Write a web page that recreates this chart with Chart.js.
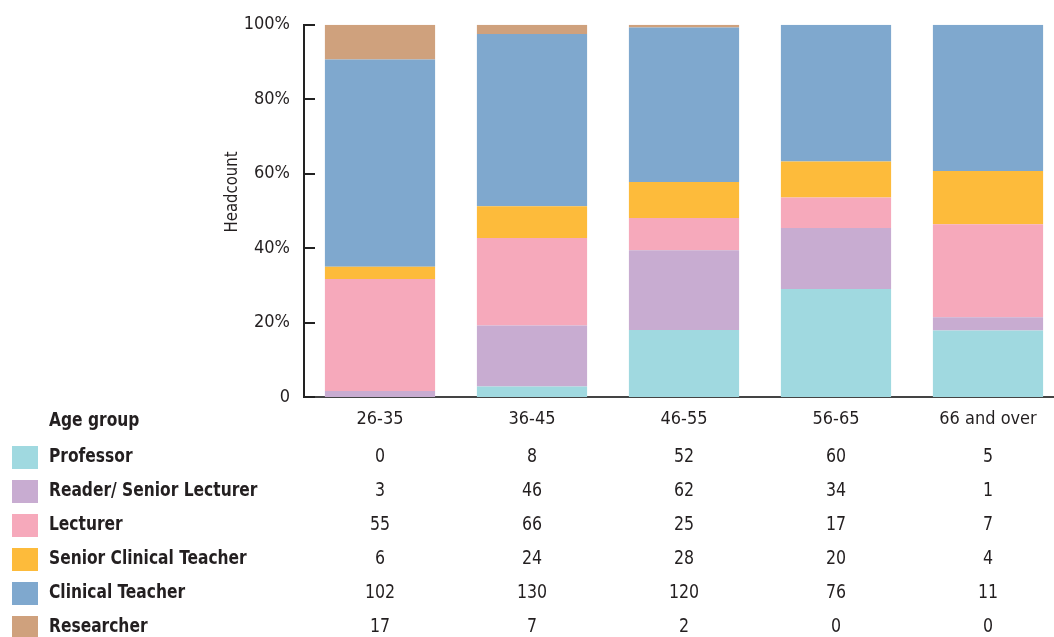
<!DOCTYPE html>
<html lang="en">

<head>
    <meta charset="utf-8" />
    <title>Headcount by age group</title>
    <script src="https://cdn.jsdelivr.net/npm/chart.js"></script>
    <style>
        html, body { margin: 0; padding: 0; background: #fff; overflow: hidden; }
        #wrap { position: relative; width: 1064px; height: 637px; }
    </style>
</head>

<body>
    <div id="wrap"><canvas id="chart"></canvas></div>

    <script>
        // headcount per age group
        const ageGroups = ['26-35', '36-45', '46-55', '56-65', '66 and over'];
        const professor = [0, 8, 52, 60, 5];
        const readerSeniorLecturer = [3, 46, 62, 34, 1];
        const lecturer = [55, 66, 25, 17, 7];
        const seniorClinicalTeacher = [6, 24, 28, 20, 4];
        const clinicalTeacher = [102, 130, 120, 76, 11];
        const researcher = [17, 7, 2, 0, 0];
        const yTicks = [0, 20, 40, 60, 80, 100];

        const FONT = "'Liberation Sans Narrow', 'DejaVu Sans Condensed', 'Roboto Condensed', sans-serif";
        const TEXT = '#231f20';

        const series = [
            { label: 'Professor', counts: professor, color: '#a0d9e0' },
            { label: 'Reader/ Senior Lecturer', counts: readerSeniorLecturer, color: '#c8acd1' },
            { label: 'Lecturer', counts: lecturer, color: '#f6a9bb' },
            { label: 'Senior Clinical Teacher', counts: seniorClinicalTeacher, color: '#fdbb3b' },
            { label: 'Clinical Teacher', counts: clinicalTeacher, color: '#7fa8ce' },
            { label: 'Researcher', counts: researcher, color: '#cfa17d' }
        ];

        const totals = ageGroups.map((g, i) => series.reduce((s, d) => s + d.counts[i], 0));

        const datasets = series.map(d => ({
            label: d.label,
            data: d.counts.map((v, i) => v / totals[i] * 100),
            backgroundColor: d.color,
            borderWidth: 0,
            barPercentage: 0.725,
            categoryPercentage: 1
        }));

        // narrow bold text: squeeze horizontally around the left edge
        function narrowText(ctx, text, x, y, squeeze) {
            ctx.save();
            ctx.translate(x, y);
            ctx.scale(squeeze, 1);
            ctx.fillText(text, 0, 0);
            ctx.restore();
        }

        // y ticks pointing into the plot, axis title and the count table under the bars
        const tablePlugin = {
            id: 'countTable',
            afterDraw(chart) {
                const ctx = chart.ctx;
                const x = chart.scales.x;
                const y = chart.scales.y;
                const left = chart.chartArea.left;

                ctx.save();
                ctx.strokeStyle = '#222';
                ctx.lineWidth = 2;
                yTicks.forEach(t => {
                    const py = Math.round(y.getPixelForValue(t));
                    ctx.beginPath();
                    ctx.moveTo(left, py);
                    ctx.lineTo(left + 11, py);
                    ctx.stroke();
                });

                ctx.fillStyle = TEXT;
                ctx.translate(232, 192);
                ctx.rotate(-Math.PI / 2);
                ctx.font = '18px ' + FONT;
                ctx.textAlign = 'center';
                ctx.textBaseline = 'middle';
                narrowText(ctx, 'Headcount', 0, 0, 0.92);
                ctx.restore();

                ctx.save();
                ctx.textBaseline = 'middle';
                ctx.fillStyle = TEXT;
                ctx.font = 'bold 20px ' + FONT;
                ctx.textAlign = 'left';
                narrowText(ctx, 'Age group', 49, 421, 0.86);

                series.forEach((d, r) => {
                    const rowY = 457 + r * 34;
                    ctx.fillStyle = d.color;
                    ctx.fillRect(12, rowY - 11, 26, 23);
                    ctx.fillStyle = TEXT;
                    ctx.font = 'bold 20px ' + FONT;
                    ctx.textAlign = 'left';
                    narrowText(ctx, d.label, 49, rowY, 0.86);
                    ctx.font = '20px ' + FONT;
                    ctx.textAlign = 'center';
                    d.counts.forEach((v, i) => {
                        narrowText(ctx, String(v), x.getPixelForValue(i), rowY, 0.88);
                    });
                });
                ctx.restore();
            }
        };

        new Chart(document.getElementById('chart'), {
            type: 'bar',
            data: { labels: ageGroups, datasets: datasets },
            options: {
                responsive: true,
                maintainAspectRatio: false,
                animation: false,
                layout: { padding: { top: 23, left: 0, right: 0, bottom: 0 } },
                plugins: {
                    legend: { display: false },
                    tooltip: { enabled: false }
                },
                scales: {
                    x: {
                        stacked: true,
                        grid: { display: false, drawTicks: false },
                        border: { display: true, color: '#444', width: 2 },
                        ticks: {
                            color: TEXT,
                            padding: 12,
                            maxRotation: 0,
                            font: { family: FONT, size: 18 }
                        },
                        afterFit(scale) { scale.height = 240; }
                    },
                    y: {
                        stacked: true,
                        min: 0,
                        max: 100,
                        grid: { display: false, drawTicks: false },
                        border: { display: true, color: '#222', width: 2 },
                        ticks: {
                            stepSize: 20,
                            color: TEXT,
                            padding: 14,
                            font: { family: FONT, size: 18 },
                            callback: v => v === 0 ? '0' : v + '%'
                        },
                        afterFit(scale) { scale.width = 304; }
                    }
                }
            },
            plugins: [tablePlugin]
        });
    </script>
</body>
</html>
